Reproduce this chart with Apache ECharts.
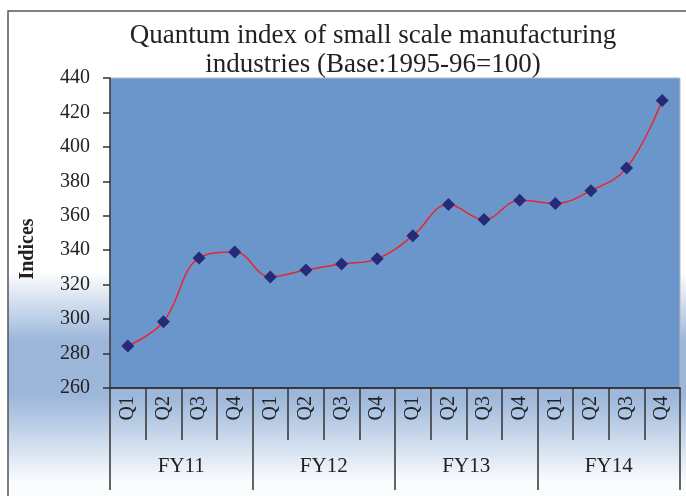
<!DOCTYPE html>
<html>
<head>
<meta charset="utf-8">
<script src="https://cdn.jsdelivr.net/npm/echarts@6/dist/echarts.min.js"></script>
<style>
  html, body { margin: 0; padding: 0; background: #fff; }
  #chart { width: 686px; height: 496px; }
</style>
</head>
<body>
<div id="chart"></div>
<script>
// quarters and fiscal years on the x axis
var quarters = ['Q1', 'Q2', 'Q3', 'Q4', 'Q1', 'Q2', 'Q3', 'Q4',
                'Q1', 'Q2', 'Q3', 'Q4', 'Q1', 'Q2', 'Q3', 'Q4'];
var years = ['FY11', 'FY12', 'FY13', 'FY14'];
// quantum index values
var indices = [284.4, 298.5, 335.5, 339, 324.5, 328.5, 332, 335,
               348.4, 366.5, 357.8, 369, 367.2, 374.6, 387.8, 427];

var serif = '"Liberation Serif", "Times New Roman", serif';

var myChart = echarts.init(document.getElementById('chart'));
var option = {
    animation: false,
    graphic: [
        {
            // outer chart area with its gradient and border
            type: 'rect',
            z: -10,
            silent: true,
            shape: { x: 8, y: 11, width: 700, height: 500 },
            style: {
                fill: new echarts.graphic.LinearGradient(0, 0, 0, 1, [
                    { offset: 0, color: '#ffffff' },
                    { offset: 0.52, color: '#ffffff' },
                    { offset: 0.66, color: '#9cb7da' },
                    { offset: 0.77, color: '#9cb7da' },
                    { offset: 0.94, color: '#fafcfe' }
                ]),
                stroke: '#555',
                lineWidth: 1.5
            }
        }
    ],
    title: {
        text: 'Quantum index of small scale manufacturing\nindustries (Base:1995-96=100)',
        left: 368,
        top: 16,
        textAlign: 'center',
        textStyle: {
            fontFamily: serif,
            fontWeight: 'normal',
            fontSize: 27,
            lineHeight: 29,
            color: '#222'
        }
    },
    grid: {
        left: 110,
        right: 6,
        top: 78,
        bottom: 108,
        show: true,
        backgroundColor: '#6b96cc',
        borderColor: '#b8b8b8',
        borderWidth: 1
    },
    xAxis: [
        {
            type: 'category',
            data: quarters,
            position: 'bottom',
            z: 5,
            axisLine: { show: true, lineStyle: { color: '#333', width: 1.5 } },
            axisTick: { show: true, interval: 0, length: 52, lineStyle: { color: '#333', width: 1.5 } },
            axisLabel: {
                rotate: 90,
                interval: 0,
                margin: 8,
                fontFamily: serif,
                fontSize: 20,
                color: '#222'
            }
        },
        {
            type: 'category',
            data: years,
            position: 'bottom',
            z: 5,
            axisLine: { show: true, lineStyle: { color: '#333', width: 1.5 } },
            axisTick: { show: true, interval: 0, length: 102, lineStyle: { color: '#333', width: 1.5 } },
            axisLabel: {
                interval: 0,
                margin: 68,
                fontFamily: serif,
                fontSize: 21,
                color: '#222'
            }
        }
    ],
    yAxis: {
        type: 'value',
        min: 260,
        max: 440,
        interval: 20,
        z: 5,
        name: 'Indices',
        nameLocation: 'middle',
        nameGap: 72,
        nameTextStyle: {
            fontFamily: serif,
            fontWeight: 'bold',
            fontSize: 20,
            color: '#222',
            padding: [0, 32, 0, 0]
        },
        splitLine: { show: false },
        axisLine: { show: true, lineStyle: { color: '#333', width: 1.5 } },
        axisTick: { show: true, length: 7, lineStyle: { color: '#333', width: 1.5 } },
        axisLabel: {
            margin: 20,
            fontFamily: serif,
            fontSize: 20,
            color: '#222'
        }
    },
    series: [
        {
            name: 'Indices',
            type: 'line',
            xAxisIndex: 0,
            data: indices,
            smooth: 0.4,
            symbol: 'diamond',
            symbolSize: 13,
            itemStyle: { color: '#262b78' },
            lineStyle: { color: '#e8262c', width: 1.5 }
        }
    ]
};
myChart.setOption(option);
</script>
</body>
</html>
